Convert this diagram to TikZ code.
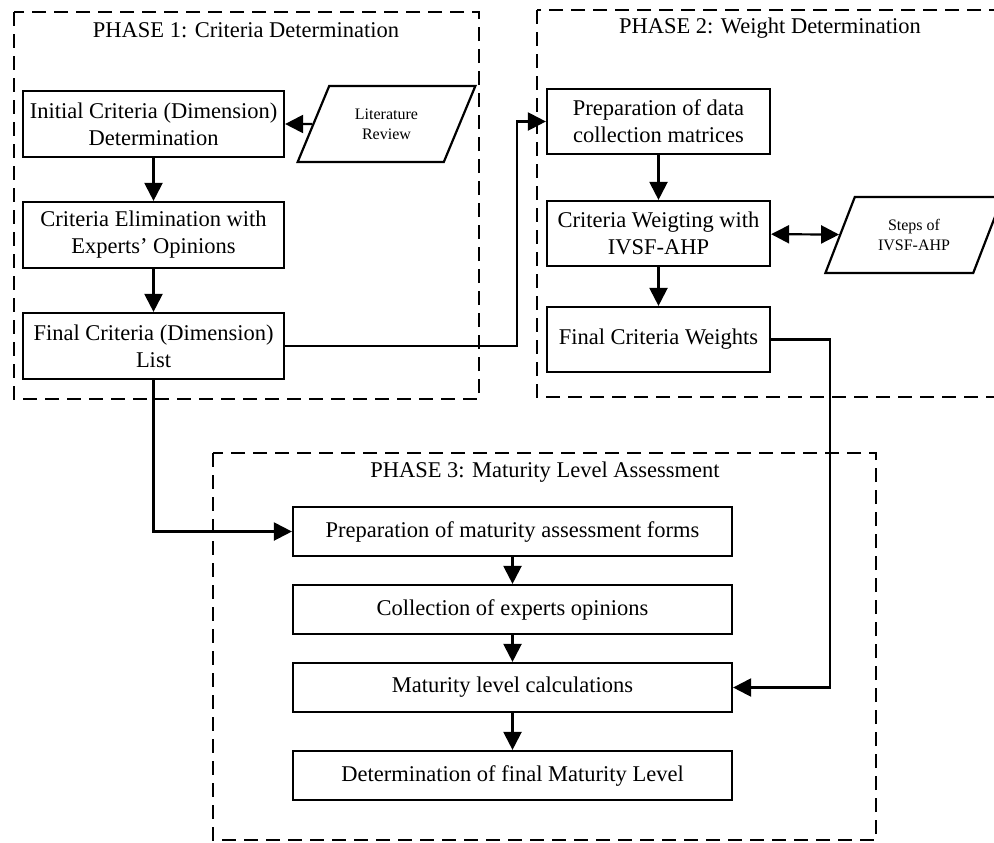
\documentclass[tikz,border=0pt]{standalone}
\usepackage{fontspec}
\setmainfont{Liberation Serif}
\usetikzlibrary{arrows.meta,shapes.geometric}

\begin{document}
\begin{tikzpicture}[x=0.5pt,y=-0.5pt,>={Triangle[length=9pt,width=9pt]},
    line width=1.1pt,
    box/.style={draw,align=center,inner sep=1pt,
      font=\fontsize{11.25}{13.5}\selectfont},
    data/.style={draw,trapezium,trapezium left angle=62,trapezium right angle=118,
      trapezium stretches=true,minimum width=89pt,minimum height=38pt,
      align=center,inner sep=1pt,font=\fontsize{8}{10}\selectfont},
    phase/.style={draw,line width=1.2pt,dash pattern=on 7pt off 4pt},
    title/.style={font=\fontsize{11.25}{13.5}\selectfont}]
  \clip (0,0) rectangle (994,842);
  % phase frames
  \draw[phase] (14,12) rectangle (479,399);
  \draw[phase] (537,10) rectangle (1010,397);
  \draw[phase] (213,453) rectangle (876,840);
  \node[title] (t1) at (246,30) {PHASE 1: Criteria Determination};
  \node[title] (t2) at (770,28) {PHASE 2: Weight Determination};
  \node[title] (t3) at (545,472) {PHASE 3: Maturity Level Assessment};
  % phase 1
  \node[box,minimum width=130.5pt,minimum height=33pt] (init) at (153.5,124)
    {Initial Criteria (Dimension)\\Determination};
  \node[box,minimum width=130.5pt,minimum height=33pt] (elim) at (153.5,235)
    {Criteria Elimination with\\Experts' Opinions};
  \node[box,minimum width=130.5pt,minimum height=33pt] (flist) at (153.5,346)
    {Final Criteria (Dimension)\\List};
  \node[data] (lit) at (386.5,124) {Literature\\Review};
  % phase 2
  \node[box,minimum width=111.5pt,minimum height=32.5pt] (prep) at (658.5,121.5)
    {Preparation of data\\collection matrices};
  \node[box,minimum width=111.5pt,minimum height=32.5pt] (weig) at (658.5,233.5)
    {Criteria Weigting with\\IVSF-AHP};
  \node[box,minimum width=111.5pt,minimum height=32.5pt] (fweights) at (658.5,339.5)
    {Final Criteria Weights};
  \node[data] (steps) at (914,235) {Steps of\\IVSF-AHP};
  % phase 3
  \node[box,minimum width=219.5pt,minimum height=24.5pt] (forms) at (512.5,531.5)
    {Preparation of maturity assessment forms};
  \node[box,minimum width=219.5pt,minimum height=24.5pt] (collect) at (512.5,609.5)
    {Collection of experts opinions};
  \node[box,minimum width=219.5pt,minimum height=24.5pt] (calc) at (512.5,687.5)
    {Maturity level calculations};
  \node[box,minimum width=219.5pt,minimum height=24.5pt] (final) at (512.5,775.5)
    {Determination of final Maturity Level};
  % connectors
  \coordinate (bendA) at (517,0);
  \coordinate (bendB) at (830,0);
  \draw[->] (lit) -- (init);
  \draw[->] (init) -- (elim);
  \draw[->] (elim) -- (flist);
  \draw[->] (prep) -- (weig);
  \draw[->] (weig) -- (fweights);
  \draw[<->] (weig) -- (steps);
  \draw[->] (flist.east) -- (flist.east -| bendA) |- (prep.west);
  \draw[->] (fweights.east) -- (fweights.east -| bendB) |- (calc.east);
  \draw[->] (flist.south) |- (forms.west);
  \draw[->] (forms) -- (collect);
  \draw[->] (collect) -- (calc);
  \draw[->] (calc) -- (final);
\end{tikzpicture}
\end{document}
